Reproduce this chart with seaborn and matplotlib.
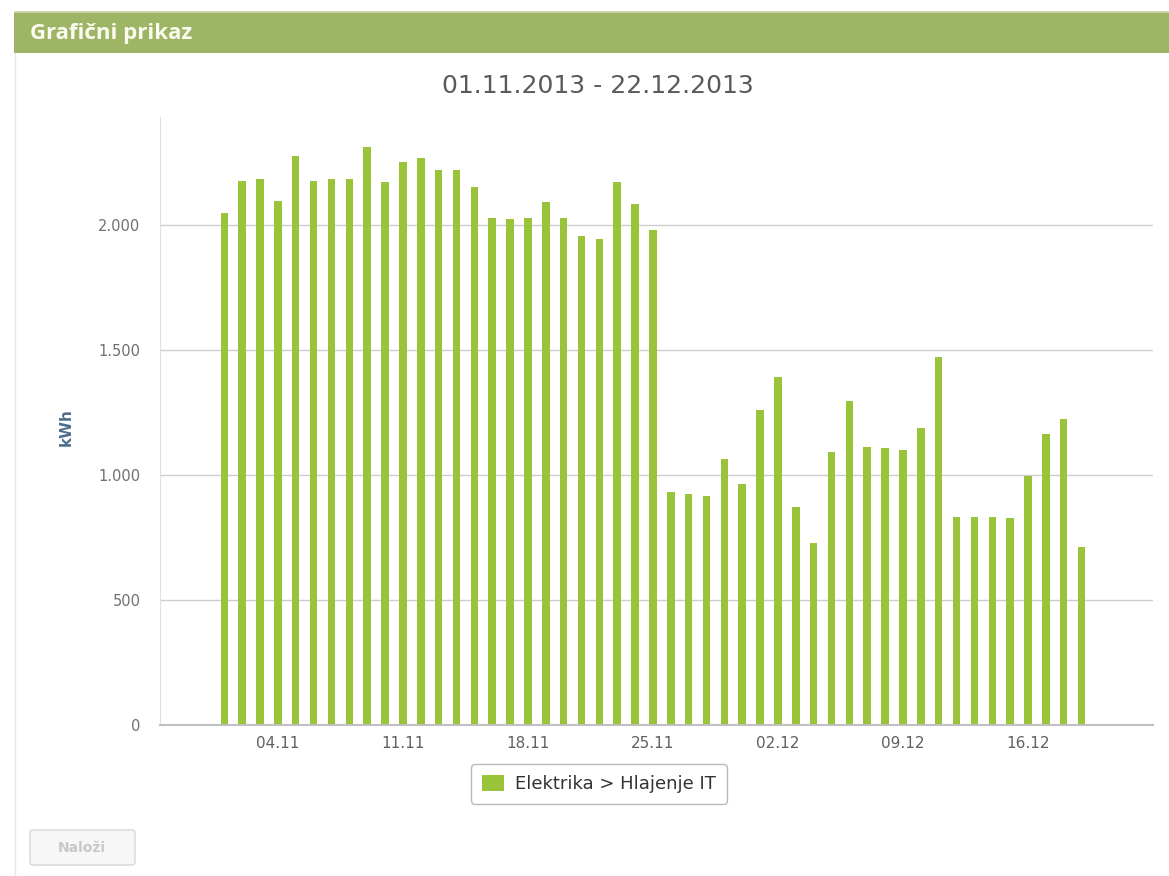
import pandas as pd
import matplotlib
matplotlib.use('Agg')
import matplotlib.pyplot as plt
import seaborn as sns
from matplotlib.patches import Patch, FancyBboxPatch, Rectangle

# podatki - dnevna poraba (kWh)
days = pd.date_range('2013-11-01', periods=49, freq='D').strftime('%d.%m')
kwh = [2049, 2177, 2183, 2097, 2276, 2177, 2183, 2183, 2313, 2171,
       2251, 2269, 2220, 2220, 2151, 2028, 2023, 2028, 2091, 2028,
       1955, 1943, 2171, 2084, 1980, 933, 923, 916, 1063, 964,
       1260, 1391, 871, 729, 1093, 1297, 1113, 1107, 1100, 1189,
       1473, 833, 833, 833, 827, 997, 1163, 1224, 711]
tick_days = ['04.11', '11.11', '18.11', '25.11', '02.12', '09.12', '16.12']
y_ticks = [0, 500, 1000, 1500, 2000]
y_labels = ['0', '500', '1.000', '1.500', '2.000']
series_name = 'Elektrika > Hlajenje IT'

df = pd.DataFrame({'dan': days, 'kwh': kwh})

sns.set_style('white')
plt.rcParams['font.family'] = ['DejaVu Sans']

fig = plt.figure(figsize=(11.69, 8.76), dpi=100)
W, H = 1169, 876

# zelena glava
fig.patches.append(Rectangle((14 / W, 1 - 53 / H), 1, 41 / H, transform=fig.transFigure,
                             facecolor='#9db565', edgecolor='none'))
fig.patches.append(Rectangle((14 / W, 1 - 13 / H), 1, 2 / H, transform=fig.transFigure,
                             facecolor='#c9d6a8', edgecolor='none'))
fig.lines.append(plt.Line2D([15 / W, 15 / W], [0, 1 - 53 / H], transform=fig.transFigure,
                            color='#e6e6e6', lw=1))
fig.text(30 / W, 1 - 34 / H, 'Grafični prikaz', color='#fbfbf0', fontsize=16,
         fontweight='bold', family='Open Sans', va='center', ha='left')

ax = fig.add_axes([160 / W, 1 - 725 / H, (1153 - 160) / W, (725 - 117) / H])
sns.barplot(data=df, x='dan', y='kwh', color='#99c43a', width=0.42,
            saturation=1, ax=ax, linewidth=0)

ax.set_xlim(-3.6, 52.0)
ax.set_ylim(0, 2432)
ax.set_yticks(y_ticks)
ax.set_yticklabels(y_labels, color='#707070', fontsize=10.5)
ax.yaxis.grid(True, color='#cccccc', lw=1)
ax.set_axisbelow(True)

pos = [list(days).index(d) for d in tick_days]
ax.set_xticks(pos)
ax.set_xticklabels(tick_days, color='#606060', fontsize=11)
ax.tick_params(axis='x', length=5, color='#d8d8d8', pad=3)
ax.tick_params(axis='y', length=0, pad=14)

for s in ['top', 'right']:
    ax.spines[s].set_visible(False)
ax.spines['left'].set_color('#e0e0e0')
ax.spines['bottom'].set_color('#c0c0c0')
ax.spines['bottom'].set_linewidth(1.5)

ax.set_xlabel('')
ax.set_ylabel('kWh', color='#4d6f8c', fontsize=11, fontweight='bold')
ax.yaxis.set_label_coords(-0.087, 0.49)

fig.text(598 / W, 1 - 86 / H, '01.11.2013 - 22.12.2013', color='#5a5a5a',
         fontsize=18, ha='center', va='center')

# legenda
leg = fig.legend(handles=[Patch(facecolor='#99c43a', edgecolor='none', label=series_name)],
                 loc='center', bbox_to_anchor=(599 / W, 1 - 784 / H), frameon=True,
                 fancybox=True, fontsize=13, handlelength=1.2, handleheight=1.0,
                 borderpad=0.6, borderaxespad=0, handletextpad=0.6)
leg.get_frame().set_edgecolor('#a8a8a8')
leg.get_frame().set_linewidth(1)
for t in leg.get_texts():
    t.set_color('#333333')

# gumb
fig.patches.append(FancyBboxPatch((30 / W, 1 - 865 / H), 105 / W, 35 / H,
                                  boxstyle='round,pad=0,rounding_size=0.003',
                                  transform=fig.transFigure, facecolor='#f7f7f7',
                                  edgecolor='#d6d6d6', lw=1))
fig.text(82 / W, 1 - 848 / H, 'Naloži', color='#c8c8c8', fontsize=10,
         fontweight='bold', ha='center', va='center')

fig.savefig('out.png', dpi=100, facecolor='white')
